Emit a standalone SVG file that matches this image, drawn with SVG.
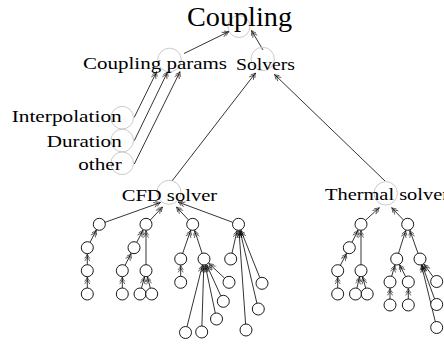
<svg xmlns="http://www.w3.org/2000/svg" width="444" height="344" viewBox="0 0 444 344">
  <style>
    .lbl { font-family: "Liberation Serif", "Times New Roman", serif; font-size: 16px; fill: #000; }
    .title { font-family: "Liberation Serif", "Times New Roman", serif; font-size: 28px; fill: #000; }
    .hub { fill: none; stroke: #c4c4c4; stroke-width: 0.9; }
    .leaf { fill: #fff; stroke: #000; stroke-width: 0.9; }
    .edge line { stroke: #000; stroke-width: 0.8; marker-end: url(#dbl); }
  </style>
  <defs>
    <!-- double open arrowhead, tip at the line end -->
    <marker id="dbl" markerUnits="userSpaceOnUse" markerWidth="12" markerHeight="8" viewBox="-10 -4 12 8" refX="0" refY="0" orient="auto" overflow="visible">
      <path d="M-4.4,-2.6 Q-1.7,-0.6 0,0 Q-1.7,0.6 -4.4,2.6 M-6.9,-2.6 Q-4.2,-0.6 -2.5,0 Q-4.2,0.6 -6.9,2.6" fill="none" stroke="#000" stroke-width="0.6"/>
    </marker>
  </defs>

  <rect width="444" height="344" fill="#fff"/>

  <!-- connectors: child to parent -->
  <g id="connectors" class="edge">
    <line x1="184" y1="53.5" x2="229" y2="31.5"/>
    <line x1="263" y1="50" x2="251.5" y2="30.5"/>
    <line x1="134.3" y1="117.3" x2="156.7" y2="71.7"/>
    <line x1="134.3" y1="140.7" x2="167.7" y2="71.7"/>
    <line x1="134.3" y1="164" x2="180" y2="71.7"/>
    <line x1="172" y1="181" x2="255.5" y2="73"/>
    <line x1="385" y1="181" x2="274.5" y2="74.5"/>

    <!-- CFD solver subtree -->
    <line x1="105" y1="222.3" x2="160.5" y2="202.5"/>
    <line x1="150.3" y1="220" x2="162.5" y2="207"/>
    <line x1="188.5" y1="220" x2="176.5" y2="207"/>
    <line x1="232.4" y1="222.2" x2="178" y2="202"/>

    <line x1="90" y1="242.4" x2="96.3" y2="230.1"/>
    <line x1="87.3" y1="264.7" x2="87.3" y2="254.2"/>
    <line x1="87.3" y1="288" x2="87.3" y2="277.2"/>

    <line x1="136.7" y1="242.4" x2="143" y2="230.1"/>
    <line x1="125" y1="265.4" x2="131.1" y2="253.5"/>
    <line x1="122.3" y1="288" x2="122.3" y2="277.2"/>
    <line x1="146" y1="264.7" x2="146" y2="230.8"/>
    <line x1="141.5" y1="288.2" x2="144.4" y2="277"/>
    <line x1="150.3" y1="288.2" x2="147.5" y2="277"/>

    <line x1="182.7" y1="253.3" x2="190.6" y2="230.4"/>
    <line x1="202.1" y1="253.3" x2="194.7" y2="230.5"/>
    <line x1="180.7" y1="276.3" x2="180.7" y2="265.5"/>
    <line x1="224.6" y1="278.2" x2="208.8" y2="263.4"/>
    <line x1="220.8" y1="295.8" x2="206.7" y2="264.9"/>
    <line x1="215.3" y1="313.1" x2="205.3" y2="265.4"/>
    <line x1="201.9" y1="326" x2="203.8" y2="265.5"/>
    <line x1="187" y1="326.7" x2="202.4" y2="265.3"/>

    <line x1="232" y1="253.1" x2="237.1" y2="230.6"/>
    <line x1="245.6" y1="324" x2="239" y2="230.8"/>
    <line x1="256.9" y1="303.2" x2="240" y2="230.6"/>
    <line x1="259.8" y1="277.7" x2="240.9" y2="230.3"/>

    <!-- Thermal solver subtree -->
    <line x1="365.4" y1="220.3" x2="379.3" y2="207.7"/>
    <line x1="403.5" y1="220" x2="391.7" y2="207.7"/>

    <line x1="352" y1="242.3" x2="358.1" y2="230.1"/>
    <line x1="340.4" y1="265.3" x2="346.4" y2="253.5"/>
    <line x1="337.7" y1="288" x2="337.7" y2="277.2"/>
    <line x1="361" y1="264.7" x2="361" y2="230.8"/>
    <line x1="356.9" y1="288.2" x2="359.5" y2="277"/>
    <line x1="365.7" y1="288.2" x2="362.7" y2="277"/>

    <line x1="398.5" y1="253.3" x2="405.7" y2="230.5"/>
    <line x1="418" y1="253.3" x2="409.9" y2="230.4"/>
    <line x1="391.7" y1="276.2" x2="394.9" y2="265.2"/>
    <line x1="405.6" y1="276.6" x2="399.6" y2="264.8"/>
    <line x1="390" y1="299" x2="390" y2="288.5"/>
    <line x1="408.3" y1="299" x2="408.3" y2="288.5"/>
    <line x1="433.1" y1="276.7" x2="423.9" y2="264.2"/>
    <line x1="434.6" y1="298.9" x2="422.2" y2="265.1"/>
    <line x1="435.3" y1="321.7" x2="421.5" y2="265.3"/>
  </g>

  <!-- labelled nodes -->
  <g id="coupling">
    <circle class="hub" cx="239" cy="26.5" r="11"/>
    <text class="title" x="239.5" y="25.5" text-anchor="middle" textLength="105" lengthAdjust="spacingAndGlyphs">Coupling</text>
  </g>
  <g id="coupling-params">
    <circle class="hub" cx="169.5" cy="60" r="11.8"/>
    <text class="lbl" x="83" y="69" textLength="144" lengthAdjust="spacingAndGlyphs">Coupling params</text>
  </g>
  <g id="solvers">
    <circle class="hub" cx="262.7" cy="59" r="11.7"/>
    <text class="lbl" x="236" y="70" textLength="59" lengthAdjust="spacingAndGlyphs">Solvers</text>
  </g>
  <g id="interpolation">
    <circle class="hub" cx="122.2" cy="117.7" r="11.3"/>
    <text class="lbl" x="11.7" y="122" textLength="110" lengthAdjust="spacingAndGlyphs">Interpolation</text>
  </g>
  <g id="duration">
    <circle class="hub" cx="122.2" cy="140.5" r="11.3"/>
    <text class="lbl" x="46.7" y="147" textLength="75" lengthAdjust="spacingAndGlyphs">Duration</text>
  </g>
  <g id="other">
    <circle class="hub" cx="122.2" cy="163.3" r="11.3"/>
    <text class="lbl" x="78.3" y="170" textLength="43.4" lengthAdjust="spacingAndGlyphs">other</text>
  </g>
  <g id="cfd-solver">
    <circle class="hub" cx="169" cy="192.3" r="12"/>
    <text class="lbl" x="121.7" y="201" textLength="95.5" lengthAdjust="spacingAndGlyphs">CFD solver</text>
  </g>
  <g id="thermal-solver">
    <circle class="hub" cx="385.8" cy="193.3" r="11.7"/>
    <text class="lbl" x="325" y="200" textLength="124" lengthAdjust="spacingAndGlyphs">Thermal solver</text>
  </g>

  <!-- CFD solver subtree nodes -->
  <g id="cfd-tree">
    <g id="cfd-a"><circle class="leaf" cx="99.3" cy="224.3" r="6"/></g>
    <g id="cfd-a1"><circle class="leaf" cx="87.3" cy="247.7" r="6"/></g>
    <g id="cfd-a11"><circle class="leaf" cx="87.3" cy="270.7" r="6"/></g>
    <g id="cfd-a111"><circle class="leaf" cx="87.3" cy="294" r="6"/></g>
    <g id="cfd-b"><circle class="leaf" cx="146" cy="224.3" r="6"/></g>
    <g id="cfd-b1"><circle class="leaf" cx="134" cy="247.7" r="6"/></g>
    <g id="cfd-b11"><circle class="leaf" cx="122.3" cy="270.7" r="6"/></g>
    <g id="cfd-b111"><circle class="leaf" cx="122.3" cy="294" r="6"/></g>
    <g id="cfd-b2"><circle class="leaf" cx="146" cy="270.7" r="6"/></g>
    <g id="cfd-b21"><circle class="leaf" cx="140" cy="294" r="6"/></g>
    <g id="cfd-b22"><circle class="leaf" cx="151.7" cy="294" r="6"/></g>
    <g id="cfd-c"><circle class="leaf" cx="192.7" cy="224.3" r="6"/></g>
    <g id="cfd-c1"><circle class="leaf" cx="180.7" cy="259" r="6"/></g>
    <g id="cfd-c11"><circle class="leaf" cx="180.7" cy="282.3" r="6"/></g>
    <g id="cfd-c2"><circle class="leaf" cx="204" cy="259" r="6"/></g>
    <g id="cfd-c21"><circle class="leaf" cx="229" cy="282.3" r="6"/></g>
    <g id="cfd-c22"><circle class="leaf" cx="223.3" cy="301.3" r="6"/></g>
    <g id="cfd-c23"><circle class="leaf" cx="216.5" cy="319" r="6"/></g>
    <g id="cfd-c24"><circle class="leaf" cx="201.7" cy="332" r="6"/></g>
    <g id="cfd-c25"><circle class="leaf" cx="185.5" cy="332.5" r="6"/></g>
    <g id="cfd-d"><circle class="leaf" cx="238.5" cy="224.3" r="6"/></g>
    <g id="cfd-d1"><circle class="leaf" cx="230.7" cy="259" r="6"/></g>
    <g id="cfd-d2"><circle class="leaf" cx="246" cy="330" r="6"/></g>
    <g id="cfd-d3"><circle class="leaf" cx="258.3" cy="309" r="6"/></g>
    <g id="cfd-d4"><circle class="leaf" cx="262" cy="283.3" r="6"/></g>
  </g>

  <!-- Thermal solver subtree nodes -->
  <g id="thermal-tree">
    <g id="th-a"><circle class="leaf" cx="361" cy="224.3" r="6"/></g>
    <g id="th-a1"><circle class="leaf" cx="349.3" cy="247.7" r="6"/></g>
    <g id="th-a11"><circle class="leaf" cx="337.7" cy="270.7" r="6"/></g>
    <g id="th-a111"><circle class="leaf" cx="337.7" cy="294" r="6"/></g>
    <g id="th-a2"><circle class="leaf" cx="361" cy="270.7" r="6"/></g>
    <g id="th-a21"><circle class="leaf" cx="355.5" cy="294" r="6"/></g>
    <g id="th-a22"><circle class="leaf" cx="367.2" cy="294" r="6"/></g>
    <g id="th-b"><circle class="leaf" cx="407.7" cy="224.3" r="6"/></g>
    <g id="th-b1"><circle class="leaf" cx="396.7" cy="259" r="6"/></g>
    <g id="th-b11"><circle class="leaf" cx="390" cy="282" r="6"/></g>
    <g id="th-b111"><circle class="leaf" cx="390" cy="305" r="6"/></g>
    <g id="th-b12"><circle class="leaf" cx="408.3" cy="282" r="6"/></g>
    <g id="th-b121"><circle class="leaf" cx="408.3" cy="305" r="6"/></g>
    <g id="th-b2"><circle class="leaf" cx="420" cy="259" r="6"/></g>
    <g id="th-b21"><circle class="leaf" cx="436.7" cy="281.5" r="6"/></g>
    <g id="th-b22"><circle class="leaf" cx="436.7" cy="304.5" r="6"/></g>
    <g id="th-b23"><circle class="leaf" cx="436.7" cy="327.5" r="6"/></g>
  </g>
</svg>
